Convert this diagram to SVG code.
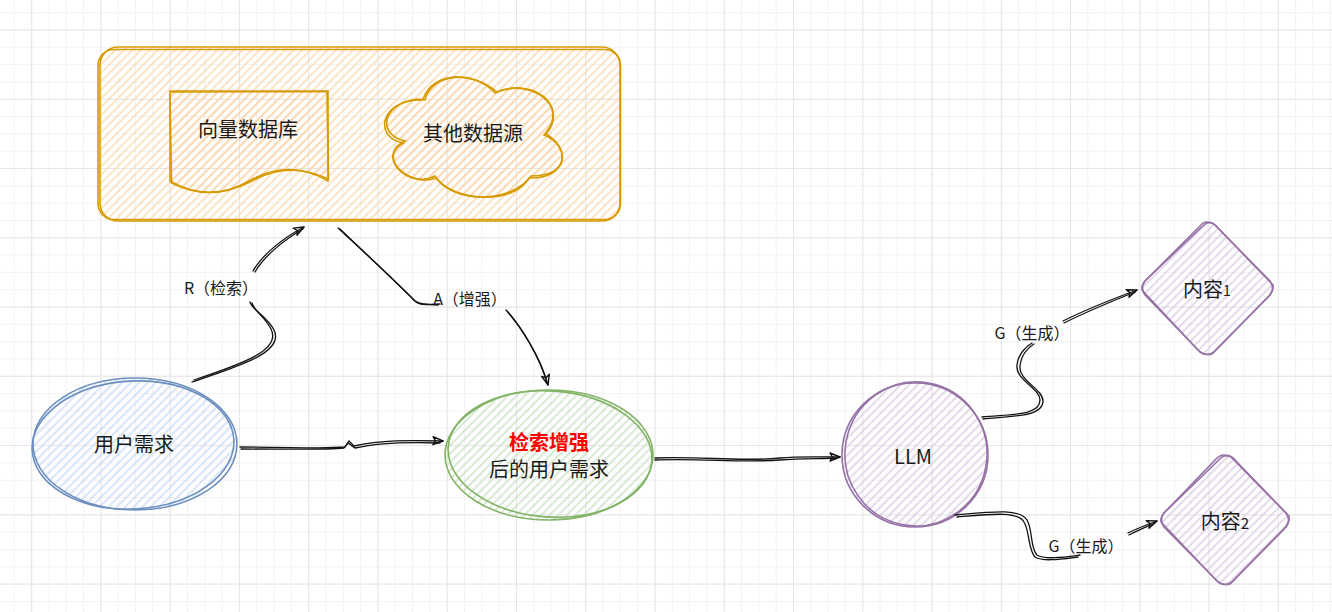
<svg xmlns="http://www.w3.org/2000/svg" width="1332" height="612" viewBox="0 0 1332 612">
<style>
  .t { font-family: "Noto Sans CJK SC", "Noto Sans", sans-serif; fill: #1a1a1a; text-anchor: middle; dominant-baseline: central; }
  .n { font-size: 20px; }
  .l { font-size: 16px; }
  .edge { fill: none; stroke: #111; stroke-width: 1.3; stroke-linecap: round; }
  .o { stroke: #d79b00; stroke-width: 1.6; }
  .b { stroke: #6c8ebf; stroke-width: 1.6; }
  .g { stroke: #82b366; stroke-width: 1.6; }
  .p { stroke: #9673a6; stroke-width: 1.6; }
  .ns { fill: none; }
</style>
<defs>
  <pattern id="gmin" patternUnits="userSpaceOnUse" x="13.8" y="12.2" width="17.315" height="17.315">
    <path d="M0,0.5 H17.315 M0.5,0 V17.315" stroke="#f2f2f2" stroke-width="1" fill="none"/>
  </pattern>
  <pattern id="gmaj" patternUnits="userSpaceOnUse" x="31.2" y="29.5" width="69.26" height="69.26">
    <path d="M0,0.5 H69.26 M0.5,0 V69.26" stroke="#e6e6e6" stroke-width="1" fill="none"/>
  </pattern>
  <pattern id="hO" patternUnits="userSpaceOnUse" width="6" height="6" patternTransform="rotate(-45)">
    <line x1="0" y1="3" x2="6" y2="3" stroke="#fcd5a9" stroke-width="1.3"/>
  </pattern>
  <pattern id="hB" patternUnits="userSpaceOnUse" width="6" height="6" patternTransform="rotate(-45)">
    <line x1="0" y1="3" x2="6" y2="3" stroke="#c5d9f3" stroke-width="1.3"/>
  </pattern>
  <pattern id="hG" patternUnits="userSpaceOnUse" width="6" height="6" patternTransform="rotate(-45)">
    <line x1="0" y1="3" x2="6" y2="3" stroke="#c3dfbd" stroke-width="1.3"/>
  </pattern>
  <pattern id="hP" patternUnits="userSpaceOnUse" width="6" height="6" patternTransform="rotate(-45)">
    <line x1="0" y1="3" x2="6" y2="3" stroke="#d9c7e3" stroke-width="1.3"/>
  </pattern>
  <marker id="arr" viewBox="0 0 12 10" refX="11" refY="5" markerWidth="12" markerHeight="10" markerUnits="userSpaceOnUse" orient="auto">
    <path d="M1,1 L11,5 L1,9 L3.5,5 Z" fill="none" stroke="#111" stroke-width="1.4" stroke-linejoin="round"/>
  </marker>
</defs>

<rect width="1332" height="612" fill="#ffffff"/>
<rect width="1332" height="612" fill="url(#gmin)"/>
<rect width="1332" height="612" fill="url(#gmaj)"/>

<g id="sources">
  <rect x="100" y="47" width="520" height="174" rx="18" fill="url(#hO)" stroke="none"/>
  <rect x="100" y="47" width="520" height="174" rx="18" class="o ns"/>
  <rect x="98" y="49.5" width="522.5" height="170" rx="16" class="o ns"/>
</g>

<g id="vector-db">
  <path d="M170,91 L328,91 L328,181 Q289,158 249,181 Q209,204 170,181 Z" fill="url(#hO)" class="o"/>
  <path d="M171,92 L327,91.5 L328.5,179 Q288,160 250,182 Q210,202 171.5,183 L170,93" class="o ns"/>
  <text class="t n" x="248" y="128">向量数据库</text>
</g>

<g id="other-sources">
  <path d="M423,99 C384,99 374,134 405,141 C374,156 409,190 435,176 C452,204 511,204 531,176 C570,176 570,148 546,134 C570,106 531,78 497,92 C472,71 433,71 423,99 Z" fill="url(#hO)" class="o"/>
  <path d="M425,100 C381,97 372,137 403,143 C376,158 411,188 436,178 C454,201 513,206 529,178 C568,179 572,146 544,135 C572,104 529,76 495,93 C474,69 431,73 425,100 Z" class="o ns"/>
  <text class="t n" x="473" y="132">其他数据源</text>
</g>

<g id="user-need">
  <ellipse cx="135" cy="444" rx="102" ry="66" fill="url(#hB)" class="b"/>
  <ellipse cx="133" cy="445" rx="101" ry="64" class="b ns" transform="rotate(-3 133 445)"/>
  <text class="t n" x="134" y="443">用户需求</text>
</g>

<g id="augmented">
  <ellipse cx="549" cy="455" rx="104" ry="65" fill="url(#hG)" class="g"/>
  <ellipse cx="550" cy="454" rx="102" ry="63" class="g ns" transform="rotate(4 550 454)"/>
  <text class="t n" x="549" y="441" style="fill:#ff0000;font-weight:bold">检索增强</text>
  <text class="t n" x="549" y="468">后的用户需求</text>
</g>

<g id="llm">
  <ellipse cx="915" cy="455" rx="73" ry="72" fill="url(#hP)" class="p"/>
  <ellipse cx="916" cy="454" rx="71" ry="72" class="p ns" transform="rotate(10 916 454)"/>
  <text class="t n" x="913" y="455">LLM</text>
</g>

<g id="content1">
  <path d="M1207,222 Q1212,222 1216,226 L1270,281 Q1275,288 1270,295 L1214,352 Q1207,357 1200,352 L1145,295 Q1140,288 1145,281 L1200,226 Q1203,222 1207,222 Z" fill="url(#hP)" class="p"/>
  <path d="M1205,224 Q1212,220 1218,228 L1273,285 Q1274,291 1268,297 L1212,354 Q1204,356 1198,350 L1142,290 Q1141,284 1147,279 L1205,224" class="p ns"/>
  <text class="t n" x="1207" y="288">内容<tspan font-size="14" dy="2">1</tspan></text>
</g>

<g id="content2">
  <path d="M1224,455 Q1229,455 1233,459 L1286,513 Q1291,520 1286,527 L1232,582 Q1225,587 1218,582 L1164,527 Q1159,520 1164,513 L1216,459 Q1220,455 1224,455 Z" fill="url(#hP)" class="p"/>
  <path d="M1222,457 Q1230,453 1236,461 L1289,516 Q1290,523 1284,529 L1230,584 Q1222,586 1216,580 L1161,522 Q1160,516 1166,511 L1222,457" class="p ns"/>
  <text class="t n" x="1225" y="520">内容<tspan font-size="15" dy="2">2</tspan></text>
</g>

<g id="connectors">
  <!-- R (retrieve) -->
  <path class="edge" d="M192,382 C240,366 285,352 274,330 C267,316 252,310 250,302"/>
  <path class="edge" d="M194,380 C242,364 282,350 271,329 C265,317 254,311 252,303"/>
  <path class="edge" d="M253,271 C262,255 283,238 304,227" marker-end="url(#arr)"/>
  <path class="edge" d="M255,272 C264,256 284,240 303,229"/>
  <text class="t l" x="221" y="287">R（检索）</text>

  <!-- A (augment) -->
  <path class="edge" d="M338,228 C362,250 392,278 412,298 C417,305 428,305 440,304"/>
  <path class="edge" d="M340,229 C364,252 396,282 414,300 C418,306 426,304 438,305"/>
  <path class="edge" d="M506,310 C520,326 540,355 548,385" marker-end="url(#arr)"/>
  <path class="edge" d="M508,312 C522,328 540,358 547,383"/>
  <text class="t l" x="470" y="298">A（增强）</text>

  <!-- user -> augmented -->
  <path class="edge" d="M240,447 C290,447 325,449 345,447 L349,441 L354,446 C380,440 410,440 443,441" marker-end="url(#arr)"/>
  <path class="edge" d="M241,449 C290,449 326,450 344,448 L348,443 L355,448 C382,442 412,442 440,443"/>

  <!-- augmented -> LLM -->
  <path class="edge" d="M655,458 C700,456 740,462 780,458 C800,456 820,457 840,457" marker-end="url(#arr)"/>
  <path class="edge" d="M655,460 C700,458 742,463 780,460 C802,458 820,459 836,458"/>

  <!-- LLM -> content1 -->
  <path class="edge" d="M982,417 C1010,414 1040,416 1040,400 C1040,388 1015,380 1017,365 C1018,355 1025,347 1032,343"/>
  <path class="edge" d="M983,419 C1012,416 1043,417 1043,401 C1043,389 1018,380 1020,366 C1021,356 1027,348 1034,344"/>
  <path class="edge" d="M1063,321 C1085,310 1110,300 1137,290" marker-end="url(#arr)"/>
  <path class="edge" d="M1064,323 C1086,312 1110,302 1135,292"/>
  <text class="t l" x="1032" y="332">G（生成）</text>

  <!-- LLM -> content2 -->
  <path class="edge" d="M955,515 C990,512 1020,508 1027,520 C1033,530 1030,548 1037,555 C1045,560 1065,557 1080,555"/>
  <path class="edge" d="M957,517 C992,514 1018,511 1024,522 C1030,532 1028,550 1035,557 C1043,562 1062,559 1078,557"/>
  <path class="edge" d="M1128,533 C1138,528 1146,525 1157,521" marker-end="url(#arr)"/>
  <path class="edge" d="M1129,535 C1139,530 1146,527 1155,523"/>
  <text class="t l" x="1086" y="545">G（生成）</text>
</g>
</svg>
